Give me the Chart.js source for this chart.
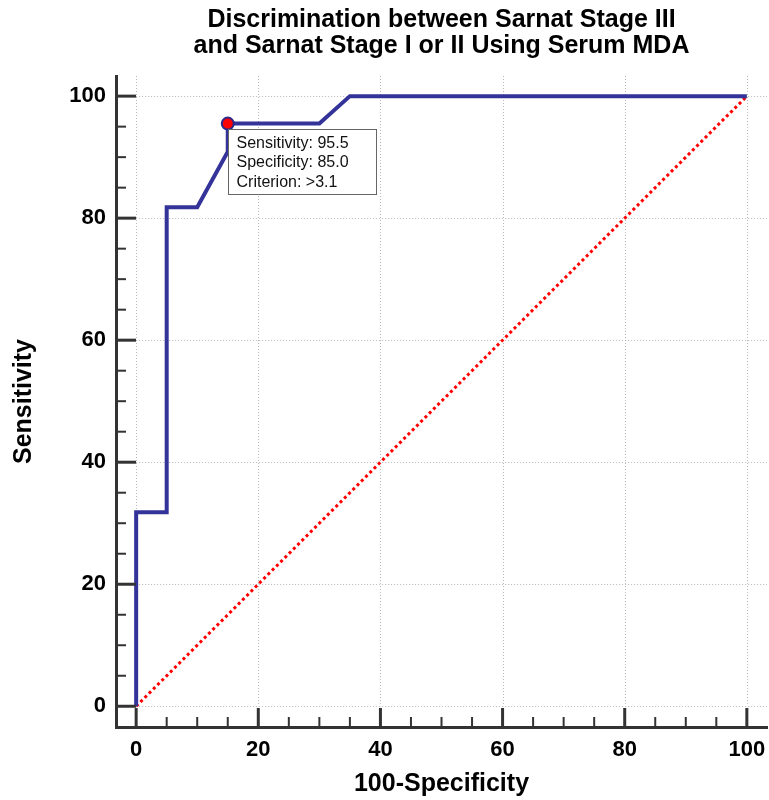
<!DOCTYPE html>
<html>
<head>
<meta charset="utf-8">
<script src="https://cdn.jsdelivr.net/npm/chart.js@4"></script>
<style>
  html, body { margin: 0; background: #fff; overflow: hidden; }
  #wrap { width: 769px; height: 800px; }
  canvas { display: block; }
</style>
</head>
<body>
<div id="wrap"><canvas id="roc"></canvas></div>
<script>
// ROC curve (100-Specificity vs Sensitivity)
const rocX = [0, 0, 5, 5, 10, 15, 15, 30, 35, 100];
const rocY = [0, 31.8, 31.8, 81.8, 81.8, 90.9, 95.5, 95.5, 100, 100];

// reference diagonal
const refX = [0, 100];
const refY = [0, 100];

// optimal cut-off point
const cutX = 15;
const cutY = 95.5;
const cutLabels = ['Sensitivity: 95.5', 'Specificity: 85.0', 'Criterion: >3.1'];

const titleLines = ['Discrimination between Sarnat Stage III', 'and Sarnat Stage I or II Using Serum MDA'];
const xTitle = '100-Specificity';
const yTitle = 'Sensitivity';

const FONT = "'Liberation Sans', Arial, sans-serif";
const AXIS = '#333333';

function toPoints(xs, ys) {
    return xs.map((v, i) => ({ x: v, y: ys[i] }));
}

// dotted grid only on the major ticks, stopping at the 0 lines
const gridPlugin = {
    id: 'rocGrid',
    beforeDatasetsDraw(chart) {
        const { ctx, chartArea, scales: { x, y } } = chart;
        const x0 = x.getPixelForValue(0), y0 = y.getPixelForValue(0);
        ctx.save();
        ctx.strokeStyle = '#b8b8b8';
        ctx.lineWidth = 1;
        ctx.setLineDash([1, 2]);
        x.ticks.forEach(t => {
            if (t.value % 20 !== 0) return;
            const px = Math.round(x.getPixelForValue(t.value)) + 0.5;
            ctx.beginPath();
            ctx.moveTo(px, chartArea.top);
            ctx.lineTo(px, y0);
            ctx.stroke();
        });
        y.ticks.forEach(t => {
            if (t.value % 20 !== 0) return;
            const py = Math.round(y.getPixelForValue(t.value)) + 0.5;
            ctx.beginPath();
            ctx.moveTo(x0, py);
            ctx.lineTo(chartArea.right, py);
            ctx.stroke();
        });
        ctx.restore();
    }
};

// tick marks drawn inward from the detached axis lines
const tickPlugin = {
    id: 'rocTicks',
    afterDraw(chart) {
        const { ctx, chartArea, scales: { x, y } } = chart;
        ctx.save();
        ctx.strokeStyle = AXIS;
        x.ticks.forEach(t => {
            const major = t.value % 20 === 0;
            const px = x.getPixelForValue(t.value);
            ctx.lineWidth = major ? 3 : 2;
            ctx.beginPath();
            ctx.moveTo(px, chartArea.bottom);
            ctx.lineTo(px, chartArea.bottom - (major ? 19 : 10));
            ctx.stroke();
        });
        y.ticks.forEach(t => {
            const major = t.value % 20 === 0;
            const py = y.getPixelForValue(t.value);
            ctx.lineWidth = major ? 3 : 2;
            ctx.beginPath();
            ctx.moveTo(chartArea.left, py);
            ctx.lineTo(chartArea.left + (major ? 20 : 10), py);
            ctx.stroke();
        });
        ctx.restore();
    }
};

// label box next to the cut-off point
const calloutPlugin = {
    id: 'callout',
    afterDraw(chart) {
        const { ctx, scales: { x, y } } = chart;
        const left = Math.round(x.getPixelForValue(cutX)) + 0.5;
        const top = Math.round(y.getPixelForValue(cutY)) + 5.5;
        ctx.save();
        ctx.fillStyle = '#fff';
        ctx.strokeStyle = '#666';
        ctx.lineWidth = 1;
        ctx.fillRect(left, top, 148, 65);
        ctx.strokeRect(left, top, 148, 65);
        ctx.fillStyle = '#111';
        ctx.font = '16px ' + FONT;
        ctx.textBaseline = 'middle';
        cutLabels.forEach((s, i) => ctx.fillText(s, left + 8, top + 14 + i * 19.5));
        ctx.restore();
    }
};

new Chart(document.getElementById('roc'), {
    type: 'scatter',
    data: {
        datasets: [
            {
                data: [{ x: cutX, y: cutY }],
                pointRadius: 6,
                pointBackgroundColor: '#ff0000',
                pointBorderColor: '#2a2a8a',
                pointBorderWidth: 2
            },
            {
                data: toPoints(rocX, rocY),
                showLine: true,
                borderColor: '#333399',
                borderWidth: 4,
                pointRadius: 0,
                tension: 0
            },
            {
                data: toPoints(refX, refY),
                showLine: true,
                borderColor: '#ff0000',
                borderWidth: 3,
                borderDash: [3, 3],
                pointRadius: 0
            }
        ]
    },
    options: {
        responsive: true,
        maintainAspectRatio: false,
        animation: false,
        layout: { autoPadding: false, padding: { left: 0, right: 2, top: 0, bottom: 0 } },
        plugins: {
            legend: { display: false },
            tooltip: { enabled: false },
            title: {
                display: true,
                fullSize: false,
                text: titleLines,
                color: '#000',
                font: { family: FONT, size: 25, weight: 'bold', lineHeight: 1.04 },
                padding: { top: 7, bottom: 17 }
            }
        },
        scales: {
            x: {
                type: 'linear',
                min: -3.3,
                max: 103.3,
                afterFit(scale) {
                    scale.height = 73;
                    scale.paddingLeft = 0;
                    scale.paddingRight = 0;
                },
                grid: { display: false, drawTicks: false },
                border: { display: true, color: AXIS, width: 3 },
                ticks: {
                    stepSize: 5,
                    includeBounds: false,
                    autoSkip: false,
                    maxRotation: 0,
                    padding: 10,
                    color: '#000',
                    font: { family: FONT, size: 22, weight: 'bold' },
                    callback: v => (v % 20 === 0 ? v : '')
                },
                title: {
                    display: true,
                    text: xTitle,
                    color: '#000',
                    font: { family: FONT, size: 25, weight: 'bold', lineHeight: 1.0 },
                    padding: { top: 0, bottom: 3 }
                }
            },
            y: {
                type: 'linear',
                min: -3.4,
                max: 103.3,
                afterFit(scale) {
                    scale.width = 116;
                    scale.paddingTop = 0;
                    scale.paddingBottom = 0;
                },
                grid: { display: false, drawTicks: false },
                border: { display: true, color: AXIS, width: 3 },
                ticks: {
                    stepSize: 5,
                    includeBounds: false,
                    autoSkip: false,
                    padding: 10,
                    color: '#000',
                    font: { family: FONT, size: 22, weight: 'bold' },
                    callback: v => (v % 20 === 0 ? v : '')
                },
                title: {
                    display: true,
                    text: yTitle,
                    color: '#000',
                    font: { family: FONT, size: 25, weight: 'bold', lineHeight: 1.0 },
                    padding: { top: 12, bottom: 0 }
                }
            }
        }
    },
    plugins: [gridPlugin, tickPlugin, calloutPlugin]
});
</script>
</body>
</html>
